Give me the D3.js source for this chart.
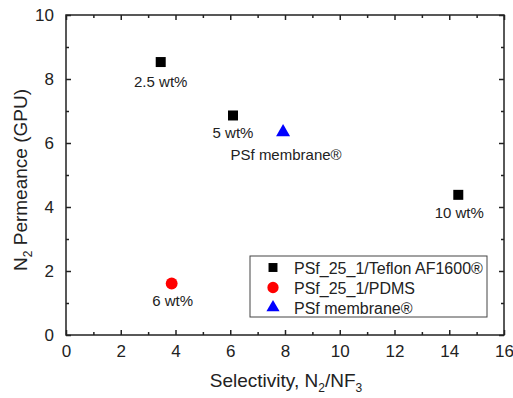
<!DOCTYPE html>
<html>
<head>
<meta charset="utf-8">
<script src="https://cdn.jsdelivr.net/npm/d3@7"></script>
<style>
  body { margin: 0; background: #fff; }
  text { font-family: 'Liberation Sans', Arial, sans-serif; fill: #222; }
</style>
</head>
<body>
<div id="chart"></div>
<script>
// data
let teflonX = [3.46, 6.1, 14.33]
let teflonY = [8.53, 6.86, 4.38]
let teflonLabels = ['2.5 wt%', '5 wt%', '10 wt%']
let pdmsX = [3.86]
let pdmsY = [1.61]
let pdmsLabels = ['6 wt%']
let psfX = [7.93]
let psfY = [6.37]
let psfLabels = ['PSf membrane®']
let legendNames = ['PSf_25_1/Teflon AF1600®', 'PSf_25_1/PDMS', 'PSf membrane®']
let xTicks = [0, 2, 4, 6, 8, 10, 12, 14, 16]
let yTicks = [0, 2, 4, 6, 8, 10]

let margin = { top: 15, left: 66, right: 9, bottom: 63 }
let width = 513 - margin.left - margin.right
let height = 398 - margin.top - margin.bottom

let svg = d3
  .select('#chart')
  .append('svg')
  .attr('width', 513)
  .attr('height', 398)
  .append('g')
  .attr('transform', 'translate(' + margin.left + ',' + margin.top + ')')

let x = d3.scaleLinear().domain([0, 16]).range([0, width])
let y = d3.scaleLinear().domain([0, 10]).range([height, 0])

let minorX = d3.range(1, 16, 2)
let minorY = d3.range(1, 10, 2)

// frame
svg.append('rect')
  .attr('width', width).attr('height', height)
  .attr('fill', 'none').attr('stroke', '#222').attr('stroke-width', 1.5)

function ticks(axis, vals, len) {
  return axis.tickValues(vals).tickSizeInner(-len).tickSizeOuter(0).tickFormat('')
}

// bottom & left axes with labels
svg.append('g').attr('transform', `translate(0,${height})`)
  .call(d3.axisBottom(x).tickValues(xTicks).tickSizeInner(-5).tickSizeOuter(0).tickPadding(10))
svg.append('g')
  .call(d3.axisLeft(y).tickValues(yTicks).tickSizeInner(-5).tickSizeOuter(0).tickPadding(12))
svg.append('g').attr('transform', `translate(0,${height})`).call(ticks(d3.axisBottom(x), minorX, 3))
svg.append('g').call(ticks(d3.axisLeft(y), minorY, 3))
// mirrored top & right
svg.append('g').call(ticks(d3.axisTop(x), xTicks, 5))
svg.append('g').call(ticks(d3.axisTop(x), minorX, 3))
svg.append('g').attr('transform', `translate(${width},0)`).call(ticks(d3.axisRight(y), yTicks, 5))
svg.append('g').attr('transform', `translate(${width},0)`).call(ticks(d3.axisRight(y), minorY, 3))

svg.selectAll('.domain').remove()
svg.selectAll('.tick line').attr('stroke', '#222').attr('stroke-width', 1.5)
svg.selectAll('.tick text').attr('font-size', 17).attr('fill', '#222')
  .attr('font-family', "'Liberation Sans', Arial, sans-serif")

// axis titles
let xt = svg.append('text')
  .attr('x', width / 2 + 1).attr('y', height + 52)
  .attr('text-anchor', 'middle').attr('font-size', 19)
xt.append('tspan').text('Selectivity, N')
xt.append('tspan').text('2').attr('font-size', 12).attr('dy', 5)
xt.append('tspan').text('/NF').attr('dy', -5)
xt.append('tspan').text('3').attr('font-size', 12).attr('dy', 5)

let yt = svg.append('text')
  .attr('transform', `translate(-39,${height / 2 + 5}) rotate(-90)`)
  .attr('text-anchor', 'middle').attr('font-size', 19)
yt.append('tspan').text('N')
yt.append('tspan').text('2').attr('font-size', 12).attr('dy', 5)
yt.append('tspan').text(' Permeance (GPU)').attr('dy', -5)

// points
let teflon = teflonX.map((d, i) => ({ x: d, y: teflonY[i], label: teflonLabels[i] }))
let pdms = pdmsX.map((d, i) => ({ x: d, y: pdmsY[i], label: pdmsLabels[i] }))
let psf = psfX.map((d, i) => ({ x: d, y: psfY[i], label: psfLabels[i] }))

let square = d3.symbol().type(d3.symbolSquare).size(100)
let circle = d3.symbol().type(d3.symbolCircle).size(110)
let triangle = d3.symbol().type(d3.symbolTriangle).size(85)

svg.selectAll('.teflon').data(teflon).enter().append('path')
  .attr('d', square).attr('fill', '#000')
  .attr('transform', d => `translate(${x(d.x)},${y(d.y)})`)
svg.selectAll('.pdms').data(pdms).enter().append('path')
  .attr('d', circle).attr('fill', '#ff0000')
  .attr('transform', d => `translate(${x(d.x)},${y(d.y)})`)
svg.selectAll('.psf').data(psf).enter().append('path')
  .attr('d', triangle).attr('fill', '#0000ff')
  .attr('transform', d => `translate(${x(d.x)},${y(d.y) + 1})`)

// point labels
let labelOffsets = { '2.5 wt%': [0, 25], '5 wt%': [0, 23], '10 wt%': [1, 23], '6 wt%': [1, 23], 'PSf membrane®': [3, 29] }
svg.selectAll('.plabel').data(teflon.concat(pdms, psf)).enter().append('text')
  .attr('x', d => x(d.x) + labelOffsets[d.label][0])
  .attr('y', d => y(d.y) + labelOffsets[d.label][1])
  .attr('text-anchor', 'middle').attr('font-size', 15)
  .text(d => d.label)

// legend
let legend = svg.append('g').attr('transform', `translate(${250 - margin.left},${256 - margin.top})`)
legend.append('rect').attr('width', 237).attr('height', 61)
  .attr('fill', '#fff').attr('stroke', '#444').attr('stroke-width', 1)
let legendSymbols = [
  d3.symbol().type(d3.symbolSquare).size(80),
  d3.symbol().type(d3.symbolCircle).size(100),
  d3.symbol().type(d3.symbolTriangle).size(75)
]
let colors = ['#000', '#ff0000', '#0000ff']
legendNames.forEach((name, i) => {
  let g = legend.append('g').attr('transform', `translate(0,${11.5 + i * 20})`)
  g.append('path').attr('d', legendSymbols[i]).attr('fill', colors[i]).attr('transform', 'translate(23,0)')
  g.append('text').attr('x', 44).attr('y', 6).attr('font-size', 16).text(name)
})
</script>
</body>
</html>
